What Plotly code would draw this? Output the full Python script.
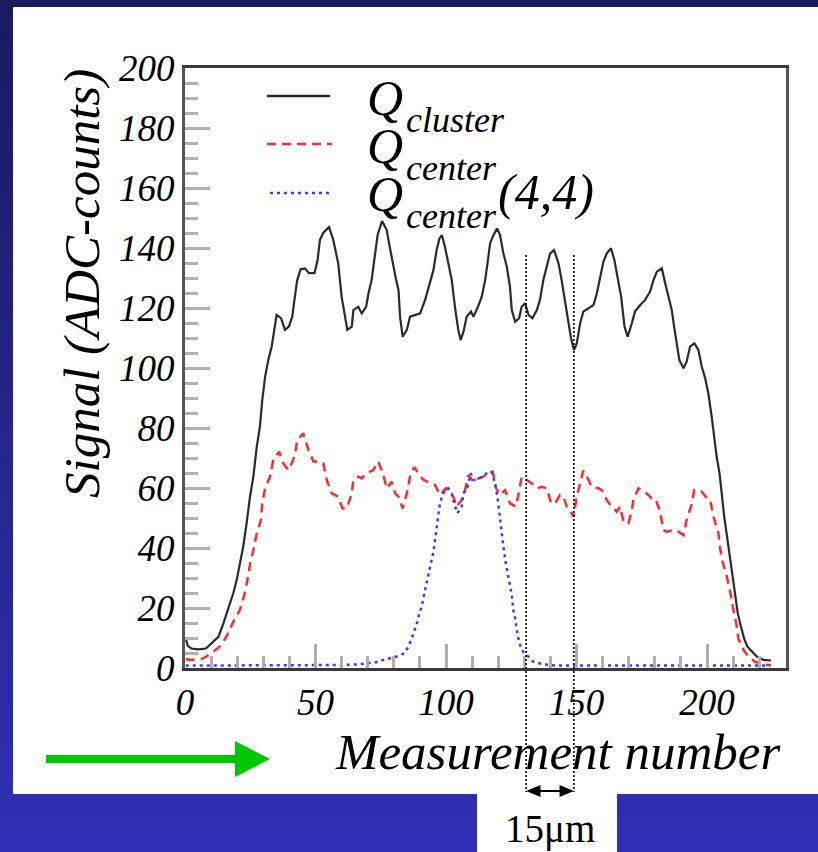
import plotly.graph_objects as go

# ---- data -------------------------------------------------------------
cluster_x = [0.3, 1, 2.5, 5, 8, 10, 12.8, 14.7, 16, 17.2, 18.5, 19.8, 21, 22.3, 23.6, 24.9,
             26.2, 27.5, 28.7, 29.6, 30.7, 31.9, 33.2, 34.2, 35.1, 36.8, 38.3, 39.8, 41.1,
             42.1, 43, 44.3, 46, 47.5, 49.6, 50.8, 51.7, 53, 55.2, 56.8, 58.7, 60, 61.3,
             62.2, 63.9, 64.5, 66.4, 67.7, 69.4, 70.3, 71.5, 72.8, 73.8, 75.5, 77.3, 78.3,
             79.6, 80.9, 81.8, 82.4, 83.4, 85, 86.2, 88.1, 90.1, 92, 93.9, 95.2, 96.4, 97.5,
             98.4, 99.6, 100.9, 102.2, 103.5, 104.7, 105.6, 106.7, 107.9, 109.6, 110.5, 112,
             113.7, 115, 115.9, 116.9, 118.2, 119.6, 120.7, 122, 123.3, 124.5, 125.2, 126.5,
             128, 129, 130.3, 131.6, 133.1, 134.8, 136, 137.3, 138.6, 139.9, 141.4, 143.1,
             144.3, 145.6, 146.9, 147.9, 149, 150.1, 151.4, 152.6, 154.6, 156.5, 157.8, 159,
             160.3, 161.6, 163.2, 164.5, 165.8, 167.1, 168.4, 169.6, 171.2, 172.4, 174.4,
             176.3, 178.2, 179.5, 180.8, 182.7, 184, 185.2, 186.5, 187.4, 188.4, 189.4, 191,
             192.2, 193.5, 195.2, 196.7, 198, 199.3, 200.5, 201.8, 202.8, 203.7, 204.8, 205.7,
             206.6, 207.6, 208.6, 209.9, 210.8, 211.8, 213, 214.2, 215.5, 217.2, 219.1, 221.6,
             224.5]
cluster_y = [10, 7.5, 6.5, 6.2, 6.5, 8.2, 10.4, 14.9, 18.2, 21.6, 24.9, 29.3, 34.9, 40.4, 48.2,
             57.1, 63.8, 73.8, 80.4, 89.3, 97.1, 102.7, 107.1, 112.7, 117.7, 116.6, 112.7,
             113.8, 117.1, 123.8, 129.3, 132.9, 133.2, 131.6, 131.6, 136, 142.7, 145.1, 147,
             142.7, 134.9, 123.8, 116.6, 112.7, 113.8, 119.3, 120.4, 118.2, 120.4, 124.9,
             129.3, 137.1, 144.3, 149, 146, 141, 134.9, 129.3, 126, 117.1, 110.4, 112.7, 117.1,
             117.7, 118.2, 122.7, 128.2, 132.7, 139.3, 143.2, 144.3, 140.4, 134.9, 129.3, 119.9,
             112.7, 109.3, 112.1, 117.1, 118.8, 117.1, 119.9, 123.8, 129.3, 134.9, 141.6, 144.3,
             146.5, 144.3, 138.2, 133.8, 127.1, 119.3, 115.4, 116.6, 120.4, 121.6, 117.7, 116.6,
             119.3, 122.7, 129.3, 133.8, 138.2, 139.3, 134.9, 129.3, 122.7, 116, 109.9, 106,
             108.2, 114.9, 118.8, 119.9, 121, 124.9, 130.4, 135.4, 138.2, 139.9, 136, 130.4,
             123.8, 113.8, 110.4, 114.9, 118.8, 121, 122.7, 125.5, 129.3, 132.1, 133.2, 128.2,
             123.8, 119.3, 113.8, 108.2, 102.7, 99.9, 102.1, 107.1, 108.2, 106, 100.4, 96.6,
             91.6, 83.8, 76, 70.4, 64.9, 57.1, 50.4, 44.3, 37.7, 30.4, 23.8, 18.2, 13.8, 9.9,
             7.1, 5.4, 3.8, 2.7, 2.5]

center_x = [0.3, 2, 5, 7, 10.2, 14, 16.2, 18.5, 21, 22.7, 23.9, 25, 26.2, 27.5, 29.1, 29.6,
            30.7, 32.6, 33.8, 36, 37.7, 39.6, 40.9, 42.1, 43, 45.3, 47.3, 49.2, 51.1, 53, 54.3,
            56.2, 58.7, 60.3, 62, 63.9, 64.5, 66.4, 67.7, 69.6, 72.2, 74.1, 76, 77.3, 79.2,
            80.5, 81.8, 83.4, 85, 86.2, 87.8, 90.1, 91.1, 93.9, 95.8, 97.7, 100, 101.5, 102.8,
            104.1, 106, 107.3, 108.6, 110.5, 112.4, 114.3, 116.2, 117.9, 119.2, 120.7, 122.6,
            124.5, 126.7, 128, 129, 130.9, 132.8, 134.8, 136.7, 138.6, 140.3, 141.8, 143.7,
            145, 146.3, 147.5, 148.8, 150.1, 151.4, 152.6, 154.6, 155.8, 158.4, 159.7, 161.6,
            163.5, 165.4, 166.7, 168, 169.9, 171.2, 171.8, 173.7, 175.6, 176.9, 178.8, 180.2,
            182, 183.3, 184.6, 187.1, 189.1, 191, 192.2, 194.2, 195.1, 198, 199.9, 201.2,
            202.5, 204.4, 205, 206, 207.6, 208.9, 209.9, 211.2, 212, 214, 215.9, 218.4, 222.3,
            224.5]
center_y = [3, 2.7, 2.9, 3.2, 4.9, 7.7, 11, 15.4, 19.3, 24.3, 29.3, 34.9, 39.3, 44.9, 49.3,
            54.9, 59.9, 63.8, 69.3, 72.1, 68.2, 66, 68.2, 71, 76, 78.2, 72.7, 68.8, 68.8, 68.2,
            62.7, 58.2, 57.1, 53.2, 53.2, 58.2, 62.7, 63.8, 63.2, 64.9, 66, 68.8, 64.3, 59.9,
            62.1, 58.2, 57.1, 53.2, 58.2, 63.8, 66.9, 64.3, 62.9, 61.6, 61, 57.7, 59.9, 58.2,
            57.1, 53.8, 56, 59.3, 64.3, 62.1, 63.2, 63.8, 64.9, 65.4, 59.9, 57.7, 59.3, 54.9,
            53.8, 58.8, 63.8, 62.7, 61.6, 59.9, 60.4, 59.9, 54.9, 54.9, 57.7, 57.1, 53.8, 52.7,
            50.4, 57.1, 61.6, 65.8, 62.7, 60.4, 59.9, 59.3, 56, 53.8, 52.1, 53.8, 48.8, 48.2,
            52.7, 56, 59.9, 58.8, 58.2, 56.6, 56.6, 52.1, 46, 45.4, 46, 45.4, 44.3, 49.3, 54.9,
            59.3, 58.8, 56.6, 56, 50.4, 44.9, 39.9, 35.4, 30.4, 25.4, 20.4, 14.9, 9.9, 6, 3.8,
            2.1, 1, 1]

center44_x = [0.3, 10, 20, 30, 40, 50, 60, 66, 70, 74, 76, 78.6, 81.8, 84, 85.6, 86.9, 88.1,
              89, 89.8, 90.7, 91.3, 92, 92.6, 93.2, 93.9, 94.5, 95.2, 95.8, 96.4, 97.1, 97.5,
              98.4, 99.6, 100.9, 102.2, 103.5, 104.4, 106, 106.7, 108.3, 109.5, 110.5, 112,
              113.7, 115.6, 117.5, 118.8, 119.7, 120.1, 120.7, 121.4, 122, 122.9, 123.9, 124.7,
              125.2, 125.8, 126.5, 127.1, 128, 129, 130.9, 133.5, 137.3, 142, 150, 160, 170,
              180, 190, 200, 210, 218, 224]
center44_y = [0.8, 0.8, 0.8, 0.8, 0.9, 0.9, 1, 1.2, 1.5, 2, 2.7, 3.2, 4, 4.9, 7.1, 9.9, 12.7,
              15.4, 18.2, 20.4, 23.2, 26, 28.8, 31, 33.8, 36, 38.8, 42.7, 46.6, 50.4, 53.8,
              57.1, 59.3, 59.9, 58.2, 53.8, 51.6, 53.8, 58.2, 60.4, 64.9, 62.7, 62.7, 63.8,
              64.9, 65.4, 61.6, 57.1, 53.8, 49.3, 45.4, 40.4, 34.9, 30.4, 27.1, 24.3, 19.3,
              16.6, 12.7, 8.8, 6, 4.3, 2.1, 1.2, 0.8, 0.8, 0.8, 0.8, 0.8, 0.8, 0.8, 0.8, 0.8,
              0.8]

# pixel-pitch markers on the measurement axis
pitch_marks = [130.7, 149.0]
pitch_label = "15\u03bcm"

legend_names = ["cluster", "center", "center"]

x_ticks = [0, 50, 100, 150, 200]
y_ticks = [0, 20, 40, 60, 80, 100, 120, 140, 160, 180, 200]

# ---- geometry helpers ------------------------------------------------
W, H = 818, 852
L, R, T, B = 185, 786, 68, 668          # plot frame in page pixels


def px(xp):
    return (xp - L) / (R - L)


def py(yp):
    return (B - yp) / (B - T)


SERIF = "Liberation Serif, Times New Roman, serif"

fig = go.Figure()

fig.add_trace(go.Scatter(x=cluster_x, y=cluster_y, mode="lines",
                         line=dict(color="#2a2a2a", width=2.2), showlegend=False))
fig.add_trace(go.Scatter(x=center_x, y=center_y, mode="lines",
                         line=dict(color="#ff2a2a", width=2.5, dash="9px,6px"),
                         showlegend=False))
fig.add_trace(go.Scatter(x=center44_x, y=center44_y, mode="lines",
                         line=dict(color="#3a3aff", width=2.5, dash="3px,4px"),
                         showlegend=False))

shapes = []

# blue gradient backdrop
n_bands = 48
top_c = (26, 26, 94)
bot_c = (47, 47, 182)
for i in range(n_bands):
    f = i / (n_bands - 1)
    c = tuple(round(top_c[k] + (bot_c[k] - top_c[k]) * f) for k in range(3))
    y0 = H * i / n_bands
    y1 = H * (i + 1) / n_bands + 1
    shapes.append(dict(type="rect", xref="paper", yref="paper", layer="below",
                       x0=px(0), x1=px(W), y0=py(y0), y1=py(y1),
                       line=dict(width=0), fillcolor="rgb(%d,%d,%d)" % c))
# white panels
shapes.append(dict(type="rect", xref="paper", yref="paper", layer="below",
                   x0=px(13), x1=px(W), y0=py(7), y1=py(794),
                   line=dict(width=0), fillcolor="white"))
shapes.append(dict(type="rect", xref="paper", yref="paper", layer="below",
                   x0=px(477), x1=px(617), y0=py(794), y1=py(H),
                   line=dict(width=0), fillcolor="white"))

# green direction arrow
shapes.append(dict(type="line", xref="paper", yref="paper",
                   x0=px(46), x1=px(238), y0=py(759), y1=py(759),
                   line=dict(color="#00c800", width=8)))
shapes.append(dict(type="path", xref="paper", yref="paper",
                   path="M %f %f L %f %f L %f %f Z" % (px(235), py(741), px(270), py(759),
                                                      px(235), py(777)),
                   line=dict(width=0), fillcolor="#00c800"))

# legend samples
shapes.append(dict(type="line", xref="paper", yref="paper",
                   x0=px(267), x1=px(330), y0=py(96), y1=py(96),
                   line=dict(color="#2a2a2a", width=2.5)))
shapes.append(dict(type="line", xref="paper", yref="paper",
                   x0=px(267), x1=px(332), y0=py(144), y1=py(144),
                   line=dict(color="#ff2a2a", width=2.5, dash="9px,6px")))
shapes.append(dict(type="line", xref="paper", yref="paper",
                   x0=px(270), x1=px(332), y0=py(193), y1=py(193),
                   line=dict(color="#3a3aff", width=2.5, dash="3px,4px")))

# pitch markers and double arrow
top_v = py(255)
arr_y = py(791)
for xm in pitch_marks:
    shapes.append(dict(type="line", xref="x", yref="paper", x0=xm, x1=xm,
                       y0=top_v, y1=py(792),
                       line=dict(color="black", width=1.6, dash="2px,2px")))
a, b = pitch_marks
head = 5.5
hh = 6 / (B - T)
shapes.append(dict(type="line", xref="x", yref="paper", x0=a + head * 0.6, x1=b - head * 0.6,
                   y0=arr_y, y1=arr_y, line=dict(color="black", width=2)))
shapes.append(dict(type="path", xref="x", yref="paper",
                   path="M %f %f L %f %f L %f %f Z" % (a, arr_y, a + head, arr_y + hh,
                                                      a + head, arr_y - hh),
                   line=dict(width=0), fillcolor="black"))
shapes.append(dict(type="path", xref="x", yref="paper",
                   path="M %f %f L %f %f L %f %f Z" % (b, arr_y, b - head, arr_y + hh,
                                                      b - head, arr_y - hh),
                   line=dict(width=0), fillcolor="black"))

annotations = []


def note(text, xp, yp, size, xanchor="center", yanchor="middle", angle=0, italic=True):
    annotations.append(dict(text=text, xref="paper", yref="paper", x=px(xp), y=py(yp),
                            xanchor=xanchor, yanchor=yanchor, showarrow=False,
                            textangle=angle, borderpad=0,
                            font=dict(family=SERIF, size=size, color="black",
                                      style="italic" if italic else "normal")))


# legend text: large Q with subscript names
for name, qy in zip(legend_names, [98, 146, 194]):
    note("Q", 366, qy, 50, xanchor="left")
    note(name, 405, qy + 22, 36, xanchor="left")
note("(4,4)", 497, 192, 50, xanchor="left")

# axis titles
note("Signal (ADC-counts)", 82, 284, 51, angle=-90)
note("Measurement number", 557, 752, 51)

annotations.append(dict(text=pitch_label, xref="x", yref="paper", x=(a + b) / 2,
                        y=py(829), xanchor="center", yanchor="middle", showarrow=False,
                        font=dict(family=SERIF, size=39, color="black")))

tick_font = dict(family=SERIF, size=37, color="black", style="italic")

fig.update_layout(
    width=W, height=H,
    margin=dict(l=L, r=W - R, t=T, b=H - B, pad=0),
    paper_bgcolor="rgb(26,26,94)",
    plot_bgcolor="white",
    shapes=shapes,
    annotations=annotations,
    showlegend=False,
    xaxis=dict(range=[0, (R - L) / 2.61], tickvals=x_ticks, ticktext=[str(v) for v in x_ticks],
               ticks="inside", ticklen=24, tickwidth=2.5, tickcolor="#b0b0b0",
               minor=dict(dtick=10, tick0=0, ticks="inside", ticklen=12, tickwidth=2.5,
                          tickcolor="#b0b0b0"),
               showline=True, linecolor="#3a3a3a", linewidth=3, mirror=True,
               showgrid=False, zeroline=False, tickfont=tick_font),
    yaxis=dict(range=[0, 200], tickvals=y_ticks, ticktext=[str(v) for v in y_ticks],
               ticks="inside", ticklen=25, tickwidth=2.5, tickcolor="#b0b0b0",
               minor=dict(dtick=5, tick0=0, ticks="inside", ticklen=13, tickwidth=2.5,
                          tickcolor="#b0b0b0"),
               showline=True, linecolor="#555555", linewidth=3, mirror=True,
               showgrid=False, zeroline=False, tickfont=tick_font),
)

fig.write_html("out.html")
